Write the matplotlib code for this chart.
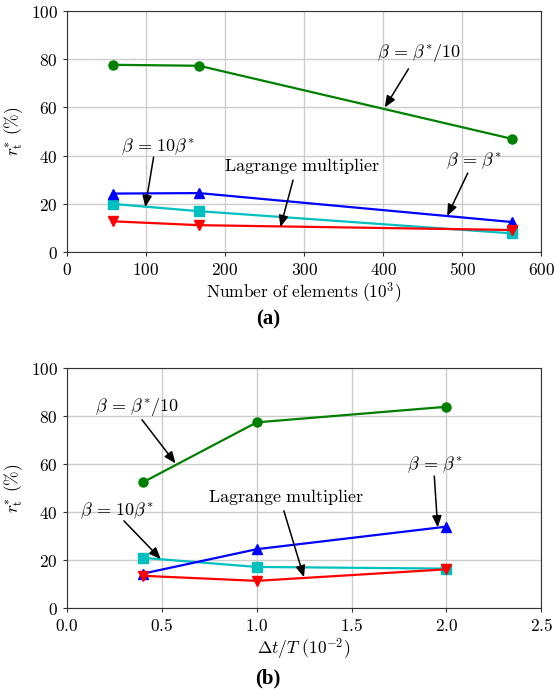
import matplotlib
matplotlib.use("Agg")
import matplotlib.pyplot as plt
from matplotlib.ticker import FuncFormatter

plt.rcParams['mathtext.fontset'] = 'cm'
plt.rcParams['font.size'] = 11.5

# (a) number of elements (10^3)
elems = [58, 167, 563]
a_beta_div10 = [77.7, 77.3, 47.0]
a_beta_star = [24.3, 24.5, 12.5]
a_lagrange = [20.0, 17.0, 7.8]
a_beta_10 = [12.8, 11.2, 9.2]

# (b) time step dt/T (10^-2)
dts = [0.4, 1.0, 2.0]
b_beta_div10 = [52.3, 77.3, 83.8]
b_beta_star = [14.2, 24.4, 33.8]
b_lagrange = [20.8, 17.0, 16.3]
b_beta_10 = [13.3, 11.2, 16.0]

fig = plt.figure(figsize=(5.54, 6.89), dpi=100)
ax1 = fig.add_axes([0.121, 0.634, 0.856, 0.350])
ax2 = fig.add_axes([0.121, 0.118, 0.856, 0.348])


def draw(ax, x, g, b, c, r):
    ax.plot(x, g, 'o-', color='green', ms=6.5, lw=1.6)
    ax.plot(x, c, 's-', color='c', ms=6.5, lw=1.6)
    ax.plot(x, b, '^-', color='blue', ms=6.5, lw=1.6)
    ax.plot(x, r, 'v-', color='red', ms=6.5, lw=1.6)
    ax.grid(True, color='#cccccc', lw=1.0)
    ax.set_axisbelow(True)
    ax.set_ylim(0, 100)
    ax.set_ylabel(r'$r_{\mathrm{t}}^{*}\ (\%)$', fontsize=12.5)
    ax.yaxis.set_major_formatter(FuncFormatter(lambda v, p: r'$%d$' % v))
    ax.tick_params(direction='out', length=3, color='#333333', labelsize=12.5)
    for s in ax.spines.values():
        s.set_color('#333333')


def arrow(ax, tail, tip):
    ax.annotate('', xy=tip, xytext=tail,
                arrowprops=dict(arrowstyle='-|>,head_length=0.6,head_width=0.25',
                                color='black', lw=1.1, shrinkA=0, shrinkB=0))


draw(ax1, elems, a_beta_div10, a_beta_star, a_lagrange, a_beta_10)
ax1.set_xlim(0, 600)
ax1.xaxis.set_major_formatter(FuncFormatter(lambda v, p: r'$%d$' % v))
ax1.set_xlabel(r'$\mathrm{Number\ of\ elements\ (10^3)}$', fontsize=12.5, labelpad=1)
ax1.text(392, 82.6, r'$\beta\,=\,\beta^{*}/10$', va='center', fontsize=13)
arrow(ax1, (432, 76), (402, 60))
ax1.text(68, 43.6, r'$\beta\,=\,10\beta^{*}$', va='center', fontsize=13)
arrow(ax1, (109.5, 39.4), (99, 18.7))
ax1.text(198, 35.7, r'$\mathrm{Lagrange\ multiplier}$', va='center', fontsize=13)
arrow(ax1, (286, 29.9), (270, 10.4))
ax1.text(480, 37.8, r'$\beta\,=\,\beta^{*}$', va='center', fontsize=13)
arrow(ax1, (507, 32.8), (481, 15))

draw(ax2, dts, b_beta_div10, b_beta_star, b_lagrange, b_beta_10)
ax2.set_xlim(0, 2.5)
ax2.xaxis.set_major_formatter(FuncFormatter(lambda v, p: r'$%.1f$' % v))
ax2.set_xlabel(r'$\Delta t/T\ \mathrm{(10^{-2})}$', fontsize=12.5, labelpad=1)
ax2.text(0.145, 83.9, r'$\beta\,=\,\beta^{*}/10$', va='center', fontsize=13)
arrow(ax2, (0.395, 78.4), (0.572, 60.2))
ax2.text(0.07, 40.4, r'$\beta\,=\,10\beta^{*}$', va='center', fontsize=13)
arrow(ax2, (0.30, 36.2), (0.494, 20.3))
ax2.text(0.745, 46.2, r'$\mathrm{Lagrange\ multiplier}$', va='center', fontsize=13)
arrow(ax2, (1.143, 40.4), (1.249, 12.7))
ax2.text(1.79, 59.8, r'$\beta\,=\,\beta^{*}$', va='center', fontsize=13)
arrow(ax2, (1.936, 54.9), (1.954, 33.5))

fig.text(0.484, 1 - 319 / 689, '(a)', ha='center', va='center',
         fontsize=15, fontweight='bold', family='Liberation Serif')
fig.text(0.484, 1 - 678 / 689, '(b)', ha='center', va='center',
         fontsize=15, fontweight='bold', family='Liberation Serif')

fig.savefig('out.png', dpi=100)
